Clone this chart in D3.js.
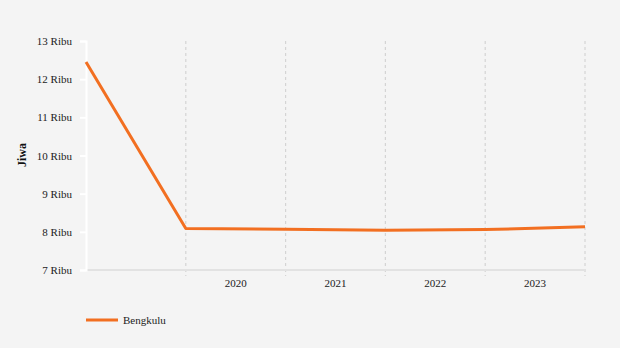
<!DOCTYPE html>
<html><head><meta charset="utf-8">
<script src="https://cdn.jsdelivr.net/npm/d3@7"></script>
<style>body{margin:0;background:#f4f4f4;}svg{display:block;font-family:"Liberation Serif",serif;}</style>
</head><body><svg id="c" width="620" height="348"></svg>
<script>
const seriesName = "Bengkulu";
const values = [12.45, 8.09, 8.07, 8.04, 8.06, 8.13];
const xLabels = ["2020", "2021", "2022", "2023"];
const yTicks = [7, 8, 9, 10, 11, 12, 13];
const yTitle = "Jiwa";
const color = "#f26f21";

const svg = d3.select("#c");
svg.append("rect").attr("width",620).attr("height",348).attr("fill","#f4f4f4");
const x = d3.scaleLinear().domain([0, values.length-1]).range([86, 585]);
const y = d3.scaleLinear().domain([7, 13]).range([270, 41]);

// gridlines
svg.append("g").selectAll("line").data(d3.range(1, values.length)).join("line")
  .attr("x1", d=>x(d)).attr("x2", d=>x(d)).attr("y1", 41).attr("y2", 276)
  .attr("stroke", "#d4d4d4").attr("stroke-width", 1.2).attr("stroke-dasharray", "3,3");
// baseline
svg.append("line").attr("x1",86).attr("x2",585).attr("y1",y(7)).attr("y2",y(7))
  .attr("stroke","#e2e2e2").attr("stroke-width",2);

// y axis
const ya = svg.append("g").attr("transform","translate(86,0)")
  .call(d3.axisLeft(y).tickValues(yTicks).tickSize(6).tickPadding(8).tickFormat(d=>d+" Ribu"));
ya.select(".domain").attr("stroke","#ffffff").attr("stroke-width",2);
ya.selectAll(".tick line").attr("stroke","#ffffff").attr("stroke-width",2);
ya.selectAll("text").attr("fill","#222").style("font-size","11px").style("font-family","Liberation Serif, serif");

// x labels
svg.append("g").selectAll("text").data(xLabels).join("text")
  .attr("x",(d,i)=>x(i+1.5)).attr("y",287).attr("text-anchor","middle")
  .attr("fill","#222").style("font-size","11px").text(d=>d);

// y title
svg.append("text").attr("transform","translate(26,155) rotate(-90)").attr("text-anchor","middle")
  .style("font-size","12px").style("font-weight","bold").attr("fill","#111").text(yTitle);

// line
svg.append("path").datum(values)
  .attr("d", d3.line().x((d,i)=>x(i)).y(d=>y(d)))
  .attr("fill","none").attr("stroke",color).attr("stroke-width",3).attr("stroke-linejoin","round");

// legend
svg.append("line").attr("x1",86).attr("x2",118).attr("y1",320).attr("y2",320)
  .attr("stroke",color).attr("stroke-width",3);
svg.append("text").attr("x",123).attr("y",324).style("font-size","11px").attr("fill","#222").text(seriesName);
</script></body></html>
